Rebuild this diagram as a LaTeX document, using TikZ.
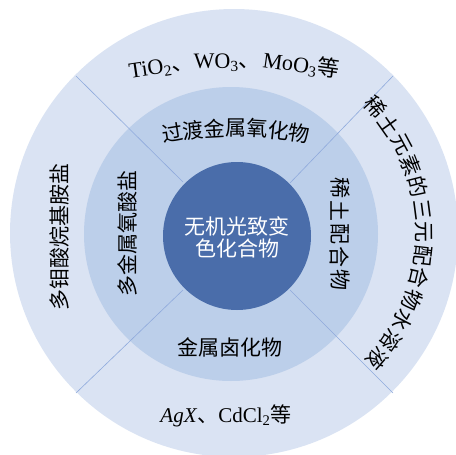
\documentclass[tikz,border=0pt]{standalone}
\usepackage{fontspec}
\setmainfont{Liberation Serif}
\newfontfamily\cjk{Noto Sans CJK SC}
\definecolor{outerc}{HTML}{DAE3F3}
\definecolor{midc}{HTML}{BCCFEA}
\definecolor{innerc}{HTML}{4A6DAA}
\definecolor{linec}{HTML}{8FAADC}
\begin{document}
\begin{tikzpicture}[x=1pt,y=1pt,
  cjktext/.style={font={\cjk\fontsize{21}{24}\selectfont}, inner sep=0pt},
  lattext/.style={font={\fontsize{21}{24}\selectfont}, inner sep=0pt},
  arctext/.style={font={\fontsize{22}{24}\selectfont}, inner sep=0pt, anchor=base},
  divider/.style={draw=linec, line width=0.6pt}]
\useasboundingbox (0,0) rectangle (456,-455);
\clip (0,0) rectangle (456,-455);
% rings
\fill[outerc] (234,-233) circle (224);
\fill[midc] (231,-234) circle (147);
% dividers
\coordinate (a1) at (76,-76);   \coordinate (b1) at (183,-182);
\coordinate (a2) at (393,-76);  \coordinate (b2) at (290,-183);
\coordinate (a3) at (76,-393);  \coordinate (b3) at (183,-290);
\coordinate (a4) at (393,-393); \coordinate (b4) at (290,-290);
\draw[divider] (a1) -- (b1);
\draw[divider] (a2) -- (b2);
\draw[divider] (a3) -- (b3);
\draw[divider] (a4) -- (b4);
% centre
\fill[innerc] (237,-236) circle (74);
\node[cjktext, text=white, align=center, font={\cjk\fontsize{21}{22}\selectfont}] (core) at (237,-237) {无机光致变\\色化合物};
% middle ring
\begin{scope}[shift={(236,-528)}]
\foreach \c [count=\i from 0] in {过,渡,金,属,氧,化,物}
  \node[cjktext, rotate={(3-\i)*3.05}] (mt\i) at ({90+(3-\i)*3.05}:400) {\c};
\end{scope}
\node[cjktext, rotate=90] (ml) at (127,-233) {多金属氧酸盐};
\begin{scope}[shift={(340,-234)}]
\foreach \c [count=\i from 0] in {稀,土,配,合,物}
  \node[cjktext, rotate=-90] (mr\i) at (0,{46-\i*23}) {\c};
\end{scope}
\node[cjktext] (mb) at (230,-347) {金属卤化物};
% outer ring
\begin{scope}[shift={(234,-548)}]
\node[arctext, rotate=8.6]  (ot1) at (98.6:480) {TiO\textsubscript{2}{\cjk 、}};
\node[arctext, rotate=0.8]  (ot2) at (90.8:480) {WO\textsubscript{3}{\cjk 、}};
\node[arctext, rotate=-7.9] (ot3) at (82.1:480) {MoO\textsubscript{3}{\cjk 等}};
\end{scope}
\node[cjktext, rotate=90] (ol) at (60,-237) {多钼酸烷基胺盐};
\begin{scope}[shift={(234,-234)}]
\foreach \c [count=\i from 0] in {稀,土,元,素,的,三,元,配,合,物,水,溶,液}
  \node[cjktext, rotate={42-\i*6.92-90}] (or\i) at ({42-\i*6.92}:190) {\c};
\end{scope}
\node[lattext, anchor=base] (ob) at (226,-422) {\textit{AgX}{\cjk 、}CdCl\textsubscript{2}{\cjk 等}};
\end{tikzpicture}
\end{document}
